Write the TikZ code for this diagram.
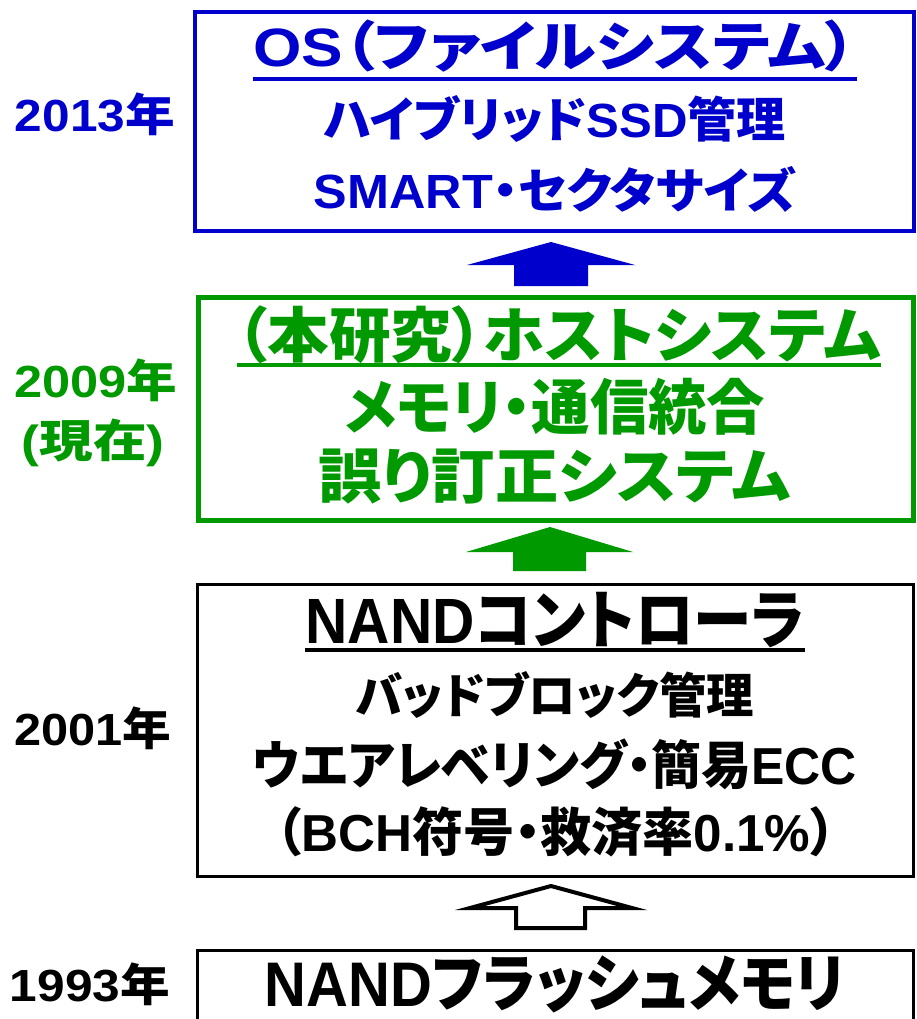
\documentclass[tikz,border=0pt]{standalone}
\usepackage{graphicx}
\usepackage{fontspec}
\setmainfont{Liberation Sans}
\newfontfamily\jpf{Noto Sans CJK JP}[RawFeature=+palt]
\newcommand\J[1]{{\jpf #1}}
\newcommand\T[3]{\fontsize{#1}{#1}\selectfont\resizebox{#2pt}{\height}{#3}}
\definecolor{myblue}{RGB}{0,0,204}
\definecolor{mygreen}{RGB}{0,153,0}
\begin{document}
\begin{tikzpicture}[x=1pt,y=-1pt,
  txt/.style={inner sep=0pt, anchor=base, font=\bfseries},
  blockarrow/.style={line join=miter}]
\clip (0,0) rectangle (917,1019);
\fill[white] (0,0) rectangle (917,1019);

% ---------- Blue box (2013) ----------
\draw[myblue, line width=4] (195,12) rectangle (914,231);
\node[txt, text=myblue] (bt) at (555,67) {\T{54}{603}{OS\J{（ファイルシステム）}}};
\draw[myblue, line width=4] ([yshift=-12pt]bt.base west) -- ([yshift=-12pt]bt.base east);
\node[txt, text=myblue] (b2) at (555,138) {\T{48}{462}{\J{ハイブリッド}SSD\J{管理}}};
\node[txt, text=myblue] (b3) at (555,208) {\T{48}{482}{SMART\J{・セクタサイズ}}};
\node[txt, text=myblue] (y13) at (95,132) {\T{45}{160}{2013\J{年}}};

% blue arrow
\fill[myblue] (551,242) -- (635,265) -- (588,265) -- (588,286) -- (514,286) -- (514,265) -- (467,265) -- cycle;

% ---------- Green box (2009) ----------
\draw[mygreen, line width=5] (198,297) rectangle (913,520);
\node[txt, text=mygreen] (gt) at (559,357) {\T{60}{644}{\J{（本研究）ホストシステム}}};
\draw[mygreen, line width=4] ([yshift=-8pt]gt.base west) -- ([yshift=-8pt]gt.base east);
\node[txt, text=mygreen] (g2) at (555,429) {\T{60}{420}{\J{メモリ・通信統合}}};
\node[txt, text=mygreen] (g3) at (555,498) {\T{60}{472}{\J{誤り訂正システム}}};
\node[txt, text=mygreen] (y09) at (96,397) {\T{45}{163}{2009\J{年}}};
\node[txt, text=mygreen] (now) at (93,457) {\T{45}{143}{(\J{現在})}};

% green arrow
\fill[mygreen] (550,527) -- (633,552) -- (586,552) -- (586,571) -- (513,571) -- (513,552) -- (466,552) -- cycle;

% ---------- Black box (2001) ----------
\draw[black, line width=3] (197,584) rectangle (913,876);
\node[txt] (kt) at (555,643) {\T{64}{499}{NAND\J{コントローラ}}};
\draw[black, line width=4] ([yshift=-6.5pt]kt.base west) -- ([yshift=-6.5pt]kt.base east);
\node[txt] (k2) at (555,713) {\T{48}{398}{\J{バッドブロック管理}}};
\node[txt] (k3) at (555,784) {\T{52}{604}{\J{ウエアレベリング・簡易}ECC}};
\node[txt] (k4) at (556,851) {\T{52}{560}{\J{（}BCH\J{符号・救済率}0.1\%\J{）}}};
\node[txt] (y01) at (93,745) {\T{45}{157}{2001\J{年}}};

% white arrow
\draw[black, fill=white, line width=4, blockarrow] (551,886) -- (632,908) -- (585,908) -- (585,928) -- (516,928) -- (516,908) -- (470,908) -- cycle;

% ---------- Bottom box (1993) ----------
\draw[black, line width=3] (197,1040) -- (197,950) -- (913,950) -- (913,1040);
\node[txt] (nf) at (555,1006) {\T{63}{580}{NAND\J{フラッシュメモリ}}};
\node[txt] (y93) at (90,1001) {\T{45}{160}{1993\J{年}}};
\end{tikzpicture}
\end{document}
